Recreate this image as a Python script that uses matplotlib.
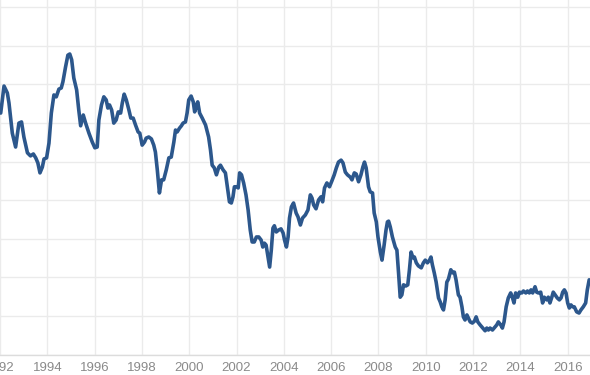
import matplotlib
matplotlib.use("Agg")
import matplotlib.pyplot as plt

plt.rcParams['font.family'] = ['Liberation Sans', 'DejaVu Sans']

years = [1992.03, 1992.17, 1992.31, 1992.38, 1992.52, 1992.66, 1992.80, 1992.91, 1993.01, 1993.16,
         1993.29, 1993.41, 1993.51, 1993.60, 1993.69, 1993.79, 1993.86, 1993.97, 1994.07, 1994.17,
         1994.28, 1994.38, 1994.49, 1994.59, 1994.66, 1994.77, 1994.87, 1994.95, 1995.03, 1995.12,
         1995.24, 1995.33, 1995.41, 1995.52, 1995.62, 1995.76, 1995.90, 1996.01, 1996.11, 1996.18,
         1996.29, 1996.39, 1996.49, 1996.56, 1996.63, 1996.72, 1996.81, 1996.91, 1997.00, 1997.10,
         1997.17, 1997.25, 1997.34, 1997.45, 1997.53, 1997.63, 1997.73, 1997.84, 1997.91, 1998.01,
         1998.11, 1998.18, 1998.29, 1998.40, 1998.50, 1998.57, 1998.65, 1998.74, 1998.83, 1998.92,
         1999.03, 1999.14, 1999.24, 1999.35, 1999.42, 1999.49, 1999.59, 1999.67, 1999.74, 1999.84,
         1999.91, 1999.98, 2000.08, 2000.17, 2000.23, 2000.31, 2000.36, 2000.44, 2000.55, 2000.69,
         2000.82, 2000.90, 2000.97, 2001.06, 2001.15, 2001.25, 2001.32, 2001.43, 2001.53, 2001.60,
         2001.70, 2001.78, 2001.85, 2001.91, 2002.00, 2002.07, 2002.13, 2002.21, 2002.30, 2002.40,
         2002.49, 2002.58, 2002.66, 2002.75, 2002.84, 2002.94, 2003.04, 2003.11, 2003.18, 2003.25,
         2003.33, 2003.40, 2003.47, 2003.54, 2003.60, 2003.68, 2003.78, 2003.88, 2003.97, 2004.03,
         2004.11, 2004.18, 2004.24, 2004.32, 2004.41, 2004.52, 2004.60, 2004.70, 2004.79, 2004.91,
         2005.02, 2005.12, 2005.19, 2005.26, 2005.36, 2005.47, 2005.57, 2005.64, 2005.72, 2005.82,
         2005.93, 2006.03, 2006.13, 2006.22, 2006.31, 2006.42, 2006.50, 2006.60, 2006.69, 2006.81,
         2006.88, 2006.98, 2007.06, 2007.16, 2007.26, 2007.34, 2007.41, 2007.48, 2007.58, 2007.65,
         2007.75, 2007.82, 2007.91, 2007.98, 2008.08, 2008.15, 2008.24, 2008.32, 2008.38, 2008.43,
         2008.50, 2008.59, 2008.71, 2008.78, 2008.85, 2008.92, 2008.99, 2009.06, 2009.16, 2009.24,
         2009.31, 2009.38, 2009.46, 2009.52, 2009.60, 2009.69, 2009.81, 2009.90, 2009.98, 2010.07,
         2010.16, 2010.22, 2010.28, 2010.36, 2010.44, 2010.54, 2010.61, 2010.68, 2010.75, 2010.82,
         2010.89, 2010.96, 2011.06, 2011.14, 2011.21, 2011.28, 2011.38, 2011.45, 2011.53, 2011.59,
         2011.66, 2011.74, 2011.80, 2011.88, 2011.97, 2012.06, 2012.13, 2012.20, 2012.30, 2012.41,
         2012.51, 2012.58, 2012.65, 2012.72, 2012.82, 2012.89, 2013.00, 2013.07, 2013.17, 2013.24,
         2013.31, 2013.40, 2013.49, 2013.59, 2013.66, 2013.73, 2013.80, 2013.89, 2013.96, 2014.06,
         2014.13, 2014.23, 2014.30, 2014.38, 2014.45, 2014.52, 2014.62, 2014.69, 2014.76, 2014.86,
         2014.94, 2015.01, 2015.11, 2015.18, 2015.25, 2015.33, 2015.39, 2015.47, 2015.56, 2015.65,
         2015.72, 2015.79, 2015.86, 2015.93, 2016.00, 2016.07, 2016.14, 2016.21, 2016.28, 2016.38,
         2016.48, 2016.56, 2016.66, 2016.76, 2016.83, 2016.91]

values = [6.26, 6.96, 6.78, 6.52, 5.74, 5.38, 6.00, 6.03, 5.64, 5.23,
          5.15, 5.20, 5.10, 4.97, 4.71, 4.86, 5.07, 5.10, 5.48, 6.26,
          6.73, 6.68, 6.88, 6.91, 7.07, 7.45, 7.76, 7.79, 7.64, 7.17,
          6.86, 6.34, 5.93, 6.21, 6.00, 5.74, 5.51, 5.36, 5.38, 6.08,
          6.47, 6.68, 6.60, 6.39, 6.47, 6.34, 6.00, 6.08, 6.29, 6.26,
          6.52, 6.75, 6.60, 6.34, 6.13, 6.13, 5.95, 5.77, 5.74, 5.43,
          5.51, 5.61, 5.64, 5.59, 5.43, 5.25, 4.79, 4.19, 4.53, 4.53,
          4.79, 5.10, 5.12, 5.51, 5.82, 5.77, 5.87, 5.93, 6.00, 6.03,
          6.26, 6.60, 6.70, 6.55, 6.29, 6.47, 6.55, 6.26, 6.13, 5.95,
          5.64, 5.30, 4.91, 4.84, 4.66, 4.86, 4.91, 4.79, 4.71, 4.40,
          3.96, 3.93, 4.09, 4.35, 4.35, 4.32, 4.71, 4.66, 4.45, 4.14,
          3.75, 3.23, 2.92, 2.92, 3.05, 3.05, 2.97, 2.79, 2.89, 2.84,
          2.53, 2.27, 2.71, 3.28, 3.34, 3.18, 3.23, 3.26, 3.15, 2.97,
          2.79, 3.05, 3.54, 3.83, 3.93, 3.67, 3.57, 3.36, 3.54, 3.62,
          3.75, 4.14, 4.06, 3.88, 3.78, 4.01, 4.09, 3.96, 4.32, 4.45,
          4.35, 4.50, 4.66, 4.84, 4.99, 5.04, 4.97, 4.73, 4.66, 4.60,
          4.53, 4.71, 4.68, 4.48, 4.66, 4.86, 4.99, 4.84, 4.35, 4.22,
          4.19, 3.67, 3.44, 3.05, 2.66, 2.45, 2.84, 3.23, 3.44, 3.46,
          3.31, 3.05, 2.79, 2.71, 2.12, 1.49, 1.55, 1.81, 1.78, 1.81,
          2.20, 2.66, 2.51, 2.53, 2.38, 2.30, 2.25, 2.38, 2.45, 2.38,
          2.45, 2.53, 2.33, 2.12, 1.88, 1.47, 1.37, 1.24, 1.16, 1.42,
          1.88, 1.96, 2.20, 2.12, 2.14, 1.94, 1.55, 1.49, 1.24, 0.98,
          0.90, 1.03, 0.95, 0.85, 0.82, 0.87, 0.98, 0.85, 0.77, 0.69,
          0.62, 0.69, 0.64, 0.69, 0.64, 0.69, 0.77, 0.85, 0.77, 0.69,
          0.85, 1.24, 1.47, 1.60, 1.49, 1.34, 1.60, 1.49, 1.62, 1.60,
          1.65, 1.60, 1.65, 1.60, 1.68, 1.60, 1.76, 1.62, 1.60, 1.62,
          1.34, 1.49, 1.42, 1.49, 1.34, 1.49, 1.62, 1.55, 1.47, 1.42,
          1.47, 1.62, 1.68, 1.60, 1.34, 1.21, 1.29, 1.24, 1.24, 1.11,
          1.08, 1.16, 1.24, 1.34, 1.68, 1.94]

tick_years = list(range(1992, 2018, 2))
tick_labels = [str(y) for y in tick_years]
grid_levels = list(range(0, 10))

W, H = 590, 375
fig = plt.figure(figsize=(W / 100, H / 100), dpi=100)
ax = fig.add_axes([0, 20.3 / H, 1, 354.7 / H])

ax.plot(years, values, color='#2c578c', linewidth=2.6, solid_joinstyle='round',
        solid_capstyle='round', zorder=3)

ax.set_xlim(1992.028, 2016.944)
ax.set_ylim(0, 9.189)
ax.set_xticks(tick_years)
ax.set_xticklabels(tick_labels)
ax.set_yticks(grid_levels)
ax.tick_params(axis='x', length=0, pad=5, labelsize=9.5, labelcolor='#8a8a8a')
ax.tick_params(axis='y', length=0, labelleft=False)
ax.grid(True, color='#ebebeb', linewidth=1.0, zorder=0)
for s in ['top', 'left', 'right']:
    ax.spines[s].set_visible(False)
ax.spines['bottom'].set_color('#dcdcdc')
ax.spines['bottom'].set_linewidth(1.0)
ax.set_axisbelow(True)

fig.savefig('out.png', dpi=100)
